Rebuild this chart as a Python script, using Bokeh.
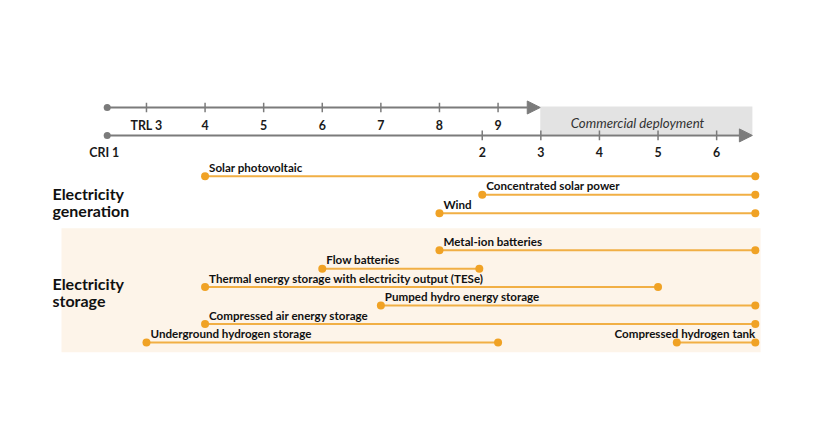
import numpy as np
from bokeh.plotting import figure
from bokeh.models import Range1d, Arrow, NormalHead
from bokeh.core.properties import value
from bokeh.embed import file_html
from bokeh.resources import INLINE

# ---- scales -------------------------------------------------------------
# Common horizontal timeline: TRL n sits at n; CRI k sits at k + CRI_OFFSET
CRI_OFFSET = 6.73


def cri(k):
    return k + CRI_OFFSET


trl_ticks = [3, 4, 5, 6, 7, 8, 9]
trl_labels = ["TRL 3", "4", "5", "6", "7", "8", "9"]
cri_ticks = [2, 3, 4, 5, 6]
cri_labels = ["2", "3", "4", "5", "6"]

# ---- data ---------------------------------------------------------------
technologies = [
    "Solar photovoltaic",
    "Concentrated solar power",
    "Wind",
    "Metal-ion batteries",
    "Flow batteries",
    "Thermal energy storage with electricity output (TESe)",
    "Pumped hydro energy storage",
    "Compressed air energy storage",
    "Underground hydrogen storage",
    "Compressed hydrogen tank",
]
rows = [0, 1, 2, 4, 5, 6, 7, 8, 9, 9]
start_pos = [4, cri(2), 8, 8, 6, 4, 7, 4, 3, cri(5.32)]
end_pos = [cri(6.66), cri(6.66), cri(6.66), cri(6.66), cri(1.95),
           cri(5.0), cri(6.66), cri(6.66), 9, cri(6.66)]
label_at_end = [False] * 9 + [True]

group_lines = ["Electricity", "generation", "Electricity", "storage"]
group_line_rows = [0.93, 1.85, 5.80, 6.72]

# ---- layout constants -----------------------------------------------------
AXIS_START = 2.33
TRL_Y = -3.72
CRI_Y = -2.21
TRL_LABEL_Y = -2.75
CRI_LABEL_Y = -1.29
LABEL_LIFT = 0.49
AXIS_COLOR = "#7b7b7b"
LINE_COLOR = "#f1af45"
DOT_COLOR = "#f0a225"
FONT = value("Lato")

p = figure(width=798, height=413,
           x_range=Range1d(0.509, 14.127), y_range=Range1d(12.84, -9.51),
           x_axis_type=None, y_axis_type=None,
           output_backend="svg", toolbar_location=None, min_border=0)
p.grid.visible = False
p.outline_line_color = None

# storage band
p.quad(left=[1.55], right=[13.48], top=[2.82], bottom=[9.53],
       fill_color="#fdf4e9", line_color=None)
# commercial deployment box
p.quad(left=[9.72], right=[13.34], top=[-3.78], bottom=[-2.26],
       fill_color="#e3e3e3", line_color=None)
p.text(x=[11.38], y=[-2.86], text=["Commercial deployment"],
       text_font=FONT, text_font_style="italic", text_font_size="13.3px",
       text_color="#333333", text_align="center", text_baseline="middle")

# TRL axis
p.add_layout(Arrow(end=NormalHead(size=13, fill_color=AXIS_COLOR, line_color=AXIS_COLOR),
                   x_start=AXIS_START, y_start=TRL_Y, x_end=9.72, y_end=TRL_Y,
                   line_color=AXIS_COLOR, line_width=2))
# CRI axis
p.add_layout(Arrow(end=NormalHead(size=13, fill_color=AXIS_COLOR, line_color=AXIS_COLOR),
                   x_start=AXIS_START, y_start=CRI_Y, x_end=13.34, y_end=CRI_Y,
                   line_color=AXIS_COLOR, line_width=2))
p.scatter(x=[AXIS_START, AXIS_START], y=[TRL_Y, CRI_Y], size=7,
          fill_color=AXIS_COLOR, line_color=None)

trl_x = trl_ticks
cri_x = [cri(k) for k in cri_ticks]
p.segment(x0=trl_x, x1=trl_x, y0=[TRL_Y - 0.26] * len(trl_x), y1=[TRL_Y + 0.26] * len(trl_x),
          line_color=AXIS_COLOR, line_width=1.5)
p.segment(x0=cri_x, x1=cri_x, y0=[CRI_Y - 0.26] * len(cri_x), y1=[CRI_Y + 0.26] * len(cri_x),
          line_color=AXIS_COLOR, line_width=1.5)

AX_SIZE = "12.4px"
p.text(x=trl_x, y=[TRL_LABEL_Y] * len(trl_x), text=trl_labels,
       text_font=FONT, text_font_style="bold", text_font_size=AX_SIZE,
       text_color="#1a1a1a", text_align="center", text_baseline="middle")
p.text(x=cri_x, y=[CRI_LABEL_Y] * len(cri_x), text=cri_labels,
       text_font=FONT, text_font_style="bold", text_font_size=AX_SIZE,
       text_color="#1a1a1a", text_align="center", text_baseline="middle")
p.text(x=[AXIS_START - 0.05], y=[CRI_LABEL_Y], text=["CRI 1"],
       text_font=FONT, text_font_style="bold", text_font_size=AX_SIZE,
       text_color="#1a1a1a", text_align="center", text_baseline="middle")

# group labels
p.text(x=[1.396] * len(group_lines), y=group_line_rows, text=group_lines,
       text_font=FONT, text_font_style="bold", text_font_size="16px",
       text_color="#111111", text_align="left", text_baseline="middle")

# bars
p.segment(x0=start_pos, x1=end_pos, y0=rows, y1=rows,
          line_color=LINE_COLOR, line_width=2)
p.scatter(x=start_pos + end_pos, y=rows + rows, size=8,
          fill_color=DOT_COLOR, line_color=None)

lx, la, lo = [], [], []
for s, e, at_end in zip(start_pos, end_pos, label_at_end):
    if at_end:
        lx.append(e); la.append("right"); lo.append(0)
    else:
        lx.append(s); la.append("left"); lo.append(4)
p.text(x=lx, y=[r - LABEL_LIFT for r in rows], text=technologies, text_align=la, x_offset=lo,
       text_font=FONT, text_font_style="bold", text_font_size="11.6px",
       text_color="#111111", text_baseline="middle")

open("out.html", "w").write(file_html(p, INLINE))
